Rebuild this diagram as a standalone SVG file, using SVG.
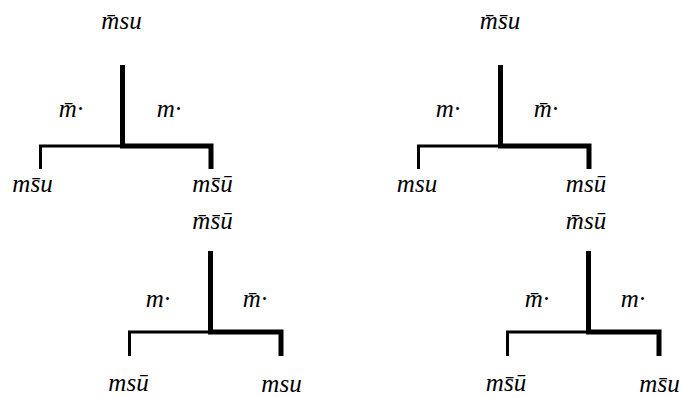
<svg xmlns="http://www.w3.org/2000/svg" width="682" height="398" viewBox="0 0 682 398">
<style>
.thick{fill:none;stroke:#000;stroke-width:5;stroke-linejoin:miter}
.thin{fill:none;stroke:#000;stroke-width:3}
</style>
<rect width="682" height="398" fill="#fff"/>
<g id="connectors">
<path class="thin" d="M122.5 146 H40.5 V169"/>
<path class="thick" d="M122.5 65 V146 H211 V169"/>
<path class="thin" d="M500.5 146 H418.5 V169"/>
<path class="thick" d="M500.5 65 V146 H589 V169"/>
<path class="thin" d="M210.5 332 H129.5 V356"/>
<path class="thick" d="M210.5 251 V332 H281 V356"/>
<path class="thin" d="M588.5 332 H507.5 V356"/>
<path class="thick" d="M588.5 251 V332 H659 V356"/>
</g>
<g font-family="Liberation Serif, Times New Roman, serif" font-style="italic" font-size="25" text-anchor="middle" fill="#000">
<g id="tree1-root"><text x="121.5" y="29">m̄su</text></g>
<g id="tree1-labels"><text x="71" y="117">m̄·</text><text x="169" y="117">m·</text></g>
<g id="tree1-left"><text x="32.5" y="192">ms̄u</text></g>
<g id="tree1-right"><text x="212.5" y="192">ms̄ū</text></g>
<g id="tree2-root"><text x="500" y="29">m̄s̄u</text></g>
<g id="tree2-labels"><text x="448" y="117">m·</text><text x="546" y="117">m̄·</text></g>
<g id="tree2-left"><text x="417" y="192">msu</text></g>
<g id="tree2-right"><text x="586" y="192">msū</text></g>
<g id="tree3-root"><text x="212.5" y="229">m̄s̄ū</text></g>
<g id="tree3-labels"><text x="158" y="307">m·</text><text x="255" y="307">m̄·</text></g>
<g id="tree3-left"><text x="128.5" y="391">msū</text></g>
<g id="tree3-right"><text x="281.5" y="392">msu</text></g>
<g id="tree4-root"><text x="586" y="229">m̄sū</text></g>
<g id="tree4-labels"><text x="537" y="307">m̄·</text><text x="633" y="307">m·</text></g>
<g id="tree4-left"><text x="506" y="391">ms̄ū</text></g>
<g id="tree4-right"><text x="659.5" y="392">ms̄u</text></g>
</g>
</svg>
